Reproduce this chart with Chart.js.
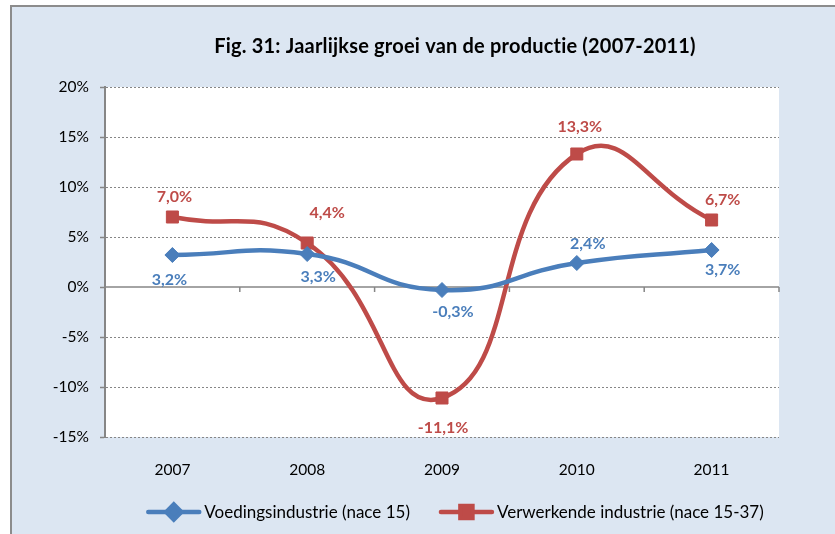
<!DOCTYPE html>
<html lang="nl">
<head>
  <meta charset="UTF-8">
  <title>Fig. 31: Jaarlijkse groei van de productie (2007-2011)</title>
  <style>
    body {
      margin: 0;
      background: #ffffff;
      overflow: hidden;
    }
    .frame {
      position: absolute;
      left: 10px;
      top: 5px;
      width: 900px;
      height: 560px;
      background: #dce6f2;
      border-top: 2px solid #8c8c8c;
      border-left: 2px solid #8c8c8c;
    }
    canvas {
      position: absolute;
      left: 0;
      top: 0;
    }
  </style>
</head>
<body>
  <div class="frame">
    <canvas id="chartGroei" width="886" height="527"></canvas>
  </div>

  <script src="https://cdn.jsdelivr.net/npm/chart.js"></script>
  <script>
    const titel = 'Fig. 31: Jaarlijkse groei van de productie (2007-2011)';
    const jaren = ['2007', '2008', '2009', '2010', '2011'];
    const voeding = [3.2, 3.3, -0.3, 2.4, 3.7];
    const verwerkend = [7.0, 4.4, -11.1, 13.3, 6.7];
    const yTicks = [-15, -10, -5, 0, 5, 10, 15, 20];

    const FONT = 'Lato, "Open Sans", sans-serif';
    const BLAUW = '#4a7ebb';
    const ROOD = '#be4b48';
    const AS = '#868686';

    function pct(v) {
      return v.toFixed(1).replace('.', ',') + '%';
    }

    // titel, gecentreerd op het hele (afgesneden) diagram
    const titelPlugin = {
      id: 'titelPlugin',
      afterDraw(chart) {
        const ctx = chart.ctx;
        ctx.save();
        ctx.font = 'bold 20px ' + FONT;
        ctx.letterSpacing = '0.2px';
        ctx.fillStyle = '#000000';
        ctx.textAlign = 'center';
        ctx.textBaseline = 'middle';
        ctx.fillText(titel, chart.width / 2, 40);
        ctx.restore();
      }
    };

    // witte plotzone + nullijn met streepjes
    const plotZone = {
      id: 'plotZone',
      beforeDraw(chart) {
        const a = chart.chartArea;
        const ctx = chart.ctx;
        ctx.save();
        ctx.fillStyle = '#ffffff';
        ctx.fillRect(a.left, a.top, a.right - a.left, a.bottom - a.top);
        ctx.restore();
      },
      beforeDatasetsDraw(chart) {
        const a = chart.chartArea;
        const ctx = chart.ctx;
        const y0 = chart.scales.y.getPixelForValue(0);
        const n = jaren.length;
        ctx.save();
        ctx.strokeStyle = AS;
        ctx.lineWidth = 1.5;
        ctx.beginPath();
        ctx.moveTo(a.left, y0);
        ctx.lineTo(a.right, y0);
        for (let i = 0; i <= n; i++) {
          const x = a.left + i * (a.right - a.left) / n;
          ctx.moveTo(x, y0);
          ctx.lineTo(x, y0 + 5);
        }
        ctx.stroke();
        ctx.restore();
      }
    };

    // waardelabels bij de punten
    const waardeLabels = {
      id: 'waardeLabels',
      afterDatasetsDraw(chart) {
        const ctx = chart.ctx;
        ctx.save();
        ctx.font = 'bold 16px ' + FONT;
        ctx.textAlign = 'center';
        ctx.textBaseline = 'middle';
        chart.data.datasets.forEach((ds, di) => {
          const meta = chart.getDatasetMeta(di);
          ctx.fillStyle = ds.borderColor;
          meta.data.forEach((pt, i) => {
            const dy = ds.labelPos[i] === 'top' ? -ds.labelGap[i] : ds.labelGap[i];
            ctx.fillText(pct(ds.data[i]), pt.x + ds.labelDx[i], pt.y + dy);
          });
        });
        ctx.restore();
      }
    };

    // legenda onderaan, lijn met marker
    const legendaOnder = {
      id: 'legendaOnder',
      afterDraw(chart) {
        const ctx = chart.ctx;
        const y = 505;
        const lijn = 55;
        ctx.save();
        ctx.font = '17px ' + FONT;
        ctx.textBaseline = 'middle';
        const items = chart.data.datasets.map(ds => ({
          ds, w: lijn + 3 + ctx.measureText(ds.label).width
        }));
        const gap = 29;
        const total = items.reduce((s, it) => s + it.w, 0) + gap * (items.length - 1);
        let x = chart.width / 2 - total / 2;
        items.forEach(it => {
          const ds = it.ds;
          ctx.strokeStyle = ds.borderColor;
          ctx.fillStyle = ds.borderColor;
          ctx.lineWidth = 4.5;
          ctx.lineCap = 'round';
          ctx.beginPath();
          ctx.moveTo(x + 2, y);
          ctx.lineTo(x + lijn - 2, y);
          ctx.stroke();
          Chart.helpers.drawPoint(ctx, {
            pointStyle: ds.pointStyle, radius: ds.pointRadius, borderWidth: 1, rotation: 0
          }, x + lijn / 2, y);
          ctx.fillStyle = '#000000';
          ctx.fillText(ds.label, x + lijn + 3, y + 1);
          x += it.w + gap;
        });
        ctx.restore();
      }
    };

    new Chart(document.getElementById('chartGroei'), {
      type: 'line',
      data: {
        labels: jaren,
        datasets: [{
          label: 'Voedingsindustrie (nace 15)',
          data: voeding,
          borderColor: BLAUW,
          backgroundColor: BLAUW,
          borderWidth: 4.5,
          pointStyle: 'rectRot',
          pointRadius: 7.5,
          pointBorderWidth: 1,
          tension: 0.5,
          labelPos: ['bottom', 'bottom', 'bottom', 'top', 'bottom'],
          labelDx: [-3, 11, 11, 11, 11],
          labelGap: [25, 23, 22, 19, 20]
        }, {
          label: 'Verwerkende industrie (nace 15-37)',
          data: verwerkend,
          borderColor: ROOD,
          backgroundColor: ROOD,
          borderWidth: 4.5,
          pointStyle: 'rect',
          pointRadius: 8.5,
          pointBorderWidth: 1,
          tension: 0.5,
          labelPos: ['top', 'top', 'bottom', 'top', 'top'],
          labelDx: [2, 20, 1, 3, 11],
          labelGap: [20, 30, 30, 27, 20]
        }]
      },
      options: {
        responsive: false,
        animation: false,
        layout: { padding: { left: 0, right: 119, top: 80, bottom: 52 } },
        plugins: {
          legend: { display: false },
          tooltip: { enabled: false },
          title: { display: false }
        },
        scales: {
          x: {
            offset: true,
            grid: { display: false },
            border: { display: false },
            ticks: { color: '#000000', font: { family: FONT, size: 15.5 }, padding: 16 },
            afterFit(scale) { scale.height = 45; }
          },
          y: {
            min: -15,
            max: 20,
            afterBuildTicks(scale) { scale.ticks = yTicks.map(v => ({ value: v })); },
            ticks: {
              color: '#000000',
              font: { family: FONT, size: 15.5 },
              padding: 11,
              callback: v => v + '%'
            },
            grid: {
              color: ctx => (ctx.tick && ctx.tick.value === 0 ? 'rgba(0,0,0,0)' : AS),
              lineWidth: 1,
              tickLength: 5,
              tickColor: AS,
              tickWidth: 1.5
            },
            border: { display: true, color: AS, width: 2, dash: [2, 2] },
            afterFit(scale) { scale.width = 93; }
          }
        }
      },
      plugins: [plotZone, waardeLabels, legendaOnder, titelPlugin]
    });
  </script>
</body>
</html>
